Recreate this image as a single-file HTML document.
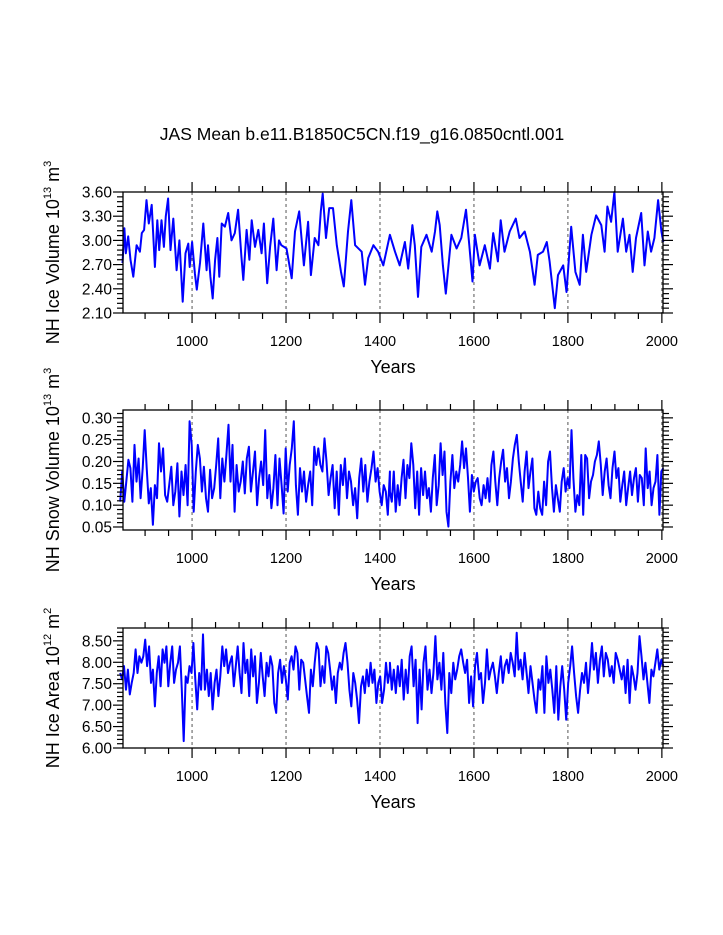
<!DOCTYPE html>
<html><head><meta charset="utf-8">
<style>
html,body{margin:0;padding:0;background:#fff;}
svg{display:block;font-family:"Liberation Sans",Arial,sans-serif;}
</style></head>
<body>
<svg id="chart" width="723" height="935" viewBox="0 0 723 935" xmlns="http://www.w3.org/2000/svg">
<text x="362" y="140" font-size="17.5" text-anchor="middle">JAS Mean b.e11.B1850C5CN.f19_g16.0850cntl.001</text>
</svg>
<script>
// ---- Panel 1: NH Ice Volume ----
const iceYears=[852,856,859,864,869,875,882,889,893,898,903,908,914,921,926,930,935,940,944,949,954,960,967,973,980,986,992,995,1000,1006,1010,1017,1024,1031,1034,1039,1044,1049,1054,1058,1063,1070,1077,1084,1091,1098,1105,1109,1116,1122,1127,1134,1141,1148,1153,1160,1166,1173,1180,1185,
1190,1201,1212,1219,1228,1233,1238,1247,1253,1261,1269,1274,1278,1285,1292,1300,1308,1317,1323,1332,1339,1347,1361,1368,1375,1386,1396,
1407,1421,1432,1442,1453,1460,1469,1474,1481,1488,1499,1510,1517,1522,1527,1534,1540,1552,1563,1573,1583,1590,1597,
1602,1612,1623,1634,1641,1651,1657,1665,1676,1689,1697,1708,1719,1729,1736,1747,1755,1761,1772,1779,1790,1797,1807,1816,1825,1832,1839,1850,1860,1871,1878,1884,1892,1899,1906,1917,1924,1931,1938,1945,1956,1963,1970,1977,1984,1992,1999,2003];
const iceVals=[2.72,3.15,2.84,3.05,2.76,2.55,2.94,2.86,3.09,3.13,3.50,3.21,3.44,2.67,3.25,2.88,3.25,2.92,3.30,3.52,2.88,3.27,2.63,3.00,2.24,2.84,2.96,2.67,2.98,2.59,2.39,2.72,3.21,2.63,2.94,2.55,2.28,2.76,3.03,2.55,3.21,3.17,3.34,3.00,3.09,3.38,2.80,2.51,3.13,2.76,3.25,2.92,3.13,2.84,3.21,2.47,2.92,3.27,2.63,3.00,
2.94,2.90,2.53,3.11,3.36,3.03,2.69,3.23,2.57,3.03,2.94,3.36,3.58,3.03,3.40,3.40,2.94,2.61,2.43,3.11,3.50,2.94,2.86,2.45,2.78,2.94,2.86,
2.69,3.07,2.86,2.69,2.98,2.65,3.19,2.94,2.30,2.92,3.07,2.86,3.11,3.36,3.19,2.69,2.34,3.07,2.90,3.03,3.38,2.94,2.49,
3.07,2.69,2.94,2.65,3.09,2.74,3.25,2.86,3.11,3.27,3.03,3.11,2.86,2.45,2.82,2.86,2.98,2.74,2.16,2.57,2.69,2.36,3.17,2.61,2.45,3.07,2.61,3.07,3.31,3.19,2.86,3.42,3.23,3.60,2.86,3.27,2.86,3.07,2.61,3.03,3.34,2.69,3.11,2.86,3.03,3.50,3.11,2.98];
const iceTicks=[2.10,2.40,2.70,3.00,3.30,3.60];
const iceTickLabels=["2.10","2.40","2.70","3.00","3.30","3.60"];

// ---- Panel 2: NH Snow Volume ----
const snowStartA=847, snowEndA=1421, snowStartB=1421, snowEndB=2003;
const snowA=[.108,.177,.108,.154,.204,.185,.108,.238,.154,.207,.116,.185,.272,.185,.104,.139,.055,.146,.116,.242,.177,.230,.123,.108,.146,.188,.100,.131,.196,.074,.177,.123,.192,.100,.292,.238,.085,.177,.238,.207,.131,.188,.116,.085,.181,.116,.139,.192,.253,.116,.207,.154,.215,.284,.154,.238,.085,.192,.131,.154,.200,.127,.207,.234,.131,.177,.223,.100,.162,.200,.146,.272,.116,.169,.093,.139,.215,.100,.207,.146,.081,.230,.131,.192,.230,.292,.146,.078,.185,.131,.177,.108,.146,.177,.100,.234,.192,.230,.192,.177,.253,.200,.123,.162,.192,.093,.177,.078,.192,.146,.207,.116,.177,.154,.100,.139,.070,.162,.207,.131,.192,.108,.154,.185,.223,.154,.185,.131,.100,.146,.131,.078,.177];
const snowB=[.131,.108,.177,.085,.146,.100,.162,.204,.116,.192,.162,.242,.192,.093,.177,.078,.185,.123,.177,.116,.139,.085,.162,.215,.100,.146,.242,.169,.223,.085,.051,.154,.215,.139,.177,.154,.192,.246,.185,.230,.162,.085,.169,.131,.154,.162,.116,.100,.146,.116,.162,.108,.192,.223,.154,.100,.162,.200,.227,.154,.185,.116,.154,.207,.238,.261,.200,.154,.108,.177,.223,.139,.177,.207,.093,.078,.131,.093,.078,.154,.100,.200,.223,.139,.085,.146,.116,.085,.154,.185,.131,.162,.139,.272,.162,.085,.123,.100,.215,.078,.215,.207,.116,.154,.169,.200,.215,.246,.192,.123,.177,.207,.146,.116,.185,.223,.162,.185,.108,.146,.177,.100,.139,.177,.123,.162,.185,.108,.169,.162,.100,.230,.139,.177,.100,.139,.154,.215,.078,.177,.185];
const snowTicks=[0.05,0.10,0.15,0.20,0.25,0.30];
const snowTickLabels=["0.05","0.10","0.15","0.20","0.25","0.30"];

// ---- Panel 3: NH Ice Area ----
const areaStartA=847, areaEndA=1421, areaStartB=1421, areaEndB=2003;
const areaA=[7.75,7.60,7.91,7.36,7.83,7.25,7.52,7.75,8.30,7.75,8.14,7.99,8.14,8.53,7.91,8.37,7.52,7.83,6.97,7.75,8.14,7.44,8.30,7.99,8.37,7.44,7.99,8.37,7.52,7.83,7.99,8.37,7.36,6.16,7.67,7.52,7.91,7.75,8.45,7.60,6.90,7.75,7.36,8.65,7.36,7.83,7.21,7.75,6.90,7.52,7.83,7.21,7.67,8.37,7.91,8.30,7.75,7.99,8.14,7.44,7.91,8.37,7.75,7.28,8.45,7.75,8.06,7.21,8.30,7.67,8.14,7.05,7.52,8.22,7.67,7.21,7.99,7.67,8.14,7.91,7.05,6.82,7.75,8.06,7.52,7.91,7.60,7.13,7.99,8.14,7.83,8.37,8.22,7.36,8.06,7.99,7.60,7.21,6.82,7.83,7.44,7.99,8.45,8.30,7.44,7.91,7.52,8.37,8.22,7.83,7.36,7.67,7.05,7.75,7.99,7.83,8.22,8.45,7.99,7.36,6.97,7.75,7.52,7.13,6.58,7.44,7.67,7.28,7.83,7.44,7.99,7.52,7.83,7.05,7.52,7.67,7.05,7.36,7.99,7.52,7.83];
const areaB=[7.99,7.36,7.83,7.28,7.91,7.44,8.06,7.13,7.83,7.28,8.14,8.37,7.44,8.06,6.58,7.83,6.90,7.99,8.37,7.36,7.83,7.28,7.75,8.61,7.60,7.99,7.36,8.22,7.05,6.35,7.75,7.28,7.99,7.60,7.83,8.14,8.30,7.99,7.75,8.06,7.05,7.67,6.97,7.91,8.22,7.60,7.75,7.05,7.52,8.30,7.60,7.83,7.99,7.67,7.28,7.75,8.14,7.52,7.91,8.06,7.75,8.22,7.99,7.67,8.69,7.83,8.06,7.60,8.22,7.75,7.28,7.91,7.52,7.13,6.82,7.60,7.36,7.91,6.82,8.14,7.52,7.83,7.36,6.82,7.91,6.66,7.44,7.91,7.36,6.66,7.52,7.91,8.37,7.75,7.21,6.82,7.36,7.75,7.52,7.99,7.28,7.83,8.45,7.83,8.22,7.52,8.06,8.37,7.67,8.22,8.06,7.67,7.91,7.52,8.22,8.06,7.83,7.60,7.91,7.28,8.06,7.05,7.91,7.67,7.36,7.75,8.61,8.14,7.60,7.99,7.52,7.05,7.83,7.67,7.99,8.30,7.83,8.06,7.91];
const areaTicks=[6.00,6.50,7.00,7.50,8.00,8.50];
const areaTickLabels=["6.00","6.50","7.00","7.50","8.00","8.50"];

const xTicks=[1000,1200,1400,1600,1800,2000];
const xTickLabels=["1000","1200","1400","1600","1800","2000"];

const NS="http://www.w3.org/2000/svg";
const svg=document.getElementById('chart');
const X0=123,X1=663,YEAR0=853,YEAR1=2002.4;
function xScale(yr){return X0+(yr-YEAR0)/(YEAR1-YEAR0)*(X1-X0);}
function mk(tag,attrs,parent){const e=document.createElementNS(NS,tag);for(const k in attrs)e.setAttribute(k,attrs[k]);(parent||svg).appendChild(e);return e;}
function spread(vals,a,b){const n=vals.length;return vals.map((v,i)=>a+(b-a)*i/(n-1));}

function panel(cfg){
  const g=mk('g',{});
  
  
  const top=cfg.top,bot=cfg.bot;
  const yScale=v=>bot-(v-cfg.ymin)/(cfg.ymax-cfg.ymin)*(bot-top);
  xTicks.forEach(t=>{
    const l=mk('line',{x1:xScale(t),x2:xScale(t),y1:top,y2:bot,stroke:'#555','stroke-width':1,'stroke-dasharray':'3,3'},g);
    
    
  });
  const pts=cfg.years.map((yr,i)=>xScale(yr).toFixed(1)+','+yScale(cfg.vals[i]).toFixed(1)).join(' ');
  const pl=mk('polyline',{points:pts,fill:'none',stroke:'#0000ff','stroke-width':2,'stroke-linejoin':'round'},g);
  
  
  const fr=mk('rect',{x:X0,y:top,width:X1-X0,height:bot-top,fill:'none',stroke:'#000','stroke-width':1.3},g);
  
  
  for(let yr=900;yr<=2000;yr+=50){
    const major=yr%200===0;const len=major?10:6;const x=xScale(yr);
    mk('line',{x1:x,x2:x,y1:bot,y2:bot+len,stroke:'#000','stroke-width':1.2},g);
    mk('line',{x1:x,x2:x,y1:top,y2:top-len,stroke:'#000','stroke-width':1.2},g);
  }
  xTicks.forEach((t,i)=>{
    const tx=mk('text',{x:xScale(t),y:bot+33,'font-size':14.5,'text-anchor':'middle'},g);
    tx.textContent=xTickLabels[i];
    
    
  });
  const xt=mk('text',{x:393,y:bot+60,'font-size':18,'text-anchor':'middle'},g);
  xt.textContent='Years';
  
  
  for(let v=cfg.minor0;v<=cfg.ymax+1e-9;v+=cfg.minorStep){
    const y=yScale(v);if(y<top-0.5||y>bot+0.5)continue;
    const isMajor=cfg.ticks.some(t=>Math.abs(t-v)<1e-6);const len=isMajor?10:6;
    mk('line',{x1:X0,x2:X0-len,y1:y,y2:y,stroke:'#000','stroke-width':1.2},g);
    mk('line',{x1:X1,x2:X1+len,y1:y,y2:y,stroke:'#000','stroke-width':1.2},g);
  }
  cfg.ticks.forEach((t,i)=>{
    const tx=mk('text',{x:X0-11,y:yScale(t)+5.5,'font-size':15.5,'text-anchor':'end'},g);
    tx.textContent=cfg.labels[i];
    
    
  });
  const cy=(top+bot)/2;
  const yt=mk('text',{x:0,y:0,'font-size':18,'text-anchor':'middle',transform:'translate(59,'+cy+') rotate(-90)'},g);
  
  
  yt.innerHTML=cfg.title+' 10<tspan font-size="11" dy="-8">'+cfg.exp+'</tspan><tspan dy="8"> m</tspan><tspan font-size="11" dy="-8">'+cfg.unitExp+'</tspan>';
}

panel({name:'ice-volume',top:192,bot:313,ymin:2.10,ymax:3.60,years:iceYears,vals:iceVals,ticks:iceTicks,labels:iceTickLabels,minor0:2.10,minorStep:0.06,title:'NH Ice Volume',exp:'13',unitExp:'3'});
panel({name:'snow-volume',top:410,bot:530,ymin:0.0431,ymax:0.318,years:spread(snowA,snowStartA,snowEndA).concat(spread(snowB,snowStartB,snowEndB)),vals:snowA.concat(snowB),ticks:snowTicks,labels:snowTickLabels,minor0:0.05,minorStep:0.01,title:'NH Snow Volume',exp:'13',unitExp:'3'});
panel({name:'ice-area',top:628,bot:748,ymin:6.00,ymax:8.80,years:spread(areaA,areaStartA,areaEndA).concat(spread(areaB,areaStartB,areaEndB)),vals:areaA.concat(areaB),ticks:areaTicks,labels:areaTickLabels,minor0:6.00,minorStep:0.1,title:'NH Ice Area',exp:'12',unitExp:'2'});
</script>
</body></html>
